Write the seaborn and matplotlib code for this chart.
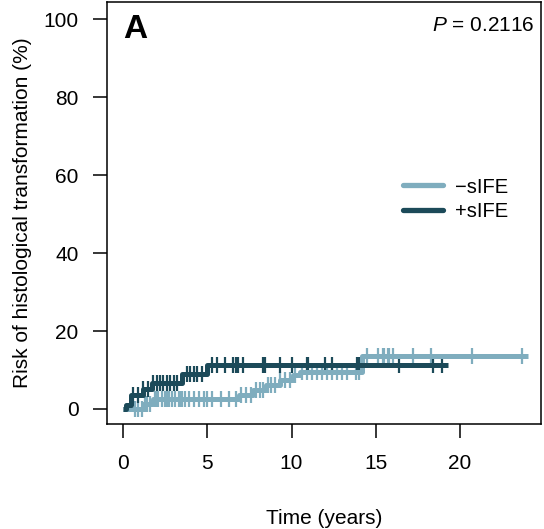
import numpy as np
import pandas as pd
import matplotlib
matplotlib.use("Agg")
import matplotlib.pyplot as plt
from matplotlib.lines import Line2D
import seaborn as sns

# ---- data ----
groups = ["\u2212sIFE", "+sIFE"]
colors = ["#7fadbe", "#1c4a59"]

# step curve: times where cumulative risk changes, and the risk (%) after it
neg_step_t = [0.0, 1.2, 1.8, 6.9, 7.7, 8.5, 9.3, 10.1, 10.5, 14.2, 24.0]
neg_step_r = [0.0, 1.2, 2.5, 3.6, 4.9, 6.1, 7.4, 8.6, 9.6, 13.5, 13.5]
pos_step_t = [0.0, 0.2, 0.45, 1.2, 1.7, 3.5, 5.0, 19.3]
pos_step_r = [0.0, 1.0, 3.5, 5.0, 6.7, 8.9, 11.2, 11.2]

# censoring times
neg_cens = [0.7, 0.9, 1.1, 1.3, 1.4, 1.6, 1.9, 2.0, 2.1, 2.3, 2.5, 2.6, 2.7,
            2.9, 3.1, 3.3, 3.4, 3.5, 3.7, 3.9, 4.2, 4.5, 4.8, 5.0, 5.3, 5.8,
            6.3, 6.7, 7.0, 7.3, 7.6, 7.9, 8.1, 8.3, 8.6, 8.8, 9.0, 9.3, 9.6,
            9.9, 10.2, 10.6, 10.9, 11.2, 11.5, 11.8, 12.1, 12.4, 12.7, 13.0,
            13.3, 13.8, 14.0, 14.5, 15.1, 15.4, 15.5, 15.7, 15.8, 16.0, 17.2,
            18.3, 20.7, 23.7]
pos_cens = [0.6, 0.9, 1.2, 1.5, 1.8, 2.0, 2.2, 2.4, 2.6, 2.8, 3.0, 3.2, 3.8,
            4.0, 4.2, 4.4, 4.7, 5.3, 5.6, 6.05, 6.5, 6.7, 6.8, 7.1, 8.3, 8.4,
            9.3, 10.0, 10.9, 11.0, 12.0, 12.4, 13.9, 14.0, 16.4, 18.4, 18.9]

p_text = "= 0.2116"
panel = "A"
xticks = [0, 5, 10, 15, 20]
yticks = [0, 20, 40, 60, 80, 100]

# ---- build tables ----
steps = pd.concat([
    pd.DataFrame({"time": neg_step_t, "risk": neg_step_r, "group": groups[0]}),
    pd.DataFrame({"time": pos_step_t, "risk": pos_step_r, "group": groups[1]}),
], ignore_index=True)

def risk_at(ts, st, sr):
    idx = np.searchsorted(np.asarray(st), np.asarray(ts), side="right") - 1
    return np.asarray(sr)[idx]

cens = pd.concat([
    pd.DataFrame({"time": neg_cens, "risk": risk_at(neg_cens, neg_step_t, neg_step_r), "group": groups[0]}),
    pd.DataFrame({"time": pos_cens, "risk": risk_at(pos_cens, pos_step_t, pos_step_r), "group": groups[1]}),
], ignore_index=True)

# ---- figure ----
sns.set_style("white")
plt.rcParams["font.family"] = ["Liberation Sans", "DejaVu Sans"]
plt.rcParams["text.color"] = "black"
plt.rcParams["axes.labelcolor"] = "black"
plt.rcParams["xtick.color"] = "black"
plt.rcParams["ytick.color"] = "black"
plt.rcParams["mathtext.fontset"] = "custom"
plt.rcParams["mathtext.it"] = "Liberation Sans:italic"
plt.rcParams["mathtext.rm"] = "Liberation Sans"

fig = plt.figure(figsize=(5.44, 5.29), dpi=100)
ax = fig.add_axes([107/544, 1 - 424/529, 434/544, 422/529])

for g, c in zip(groups, colors):
    sub = steps[steps.group == g]
    sns.lineplot(data=sub, x="time", y="risk", color=c, drawstyle="steps-post",
                 estimator=None, sort=False, linewidth=3.6, ax=ax, legend=False,
                 solid_capstyle="butt")
    subc = cens[cens.group == g]
    sns.scatterplot(data=subc, x="time", y="risk", color=c, marker="|", s=140,
                    linewidth=1.6, ax=ax, legend=False)

ax.set_xlim(-0.95, 24.8)
ax.set_ylim(-3.85, 104.4)
ax.set_xticks(xticks)
ax.set_yticks(yticks)
ax.tick_params(axis="both", direction="out", length=10, width=1.1, color="black",
               labelcolor="black", labelsize=15, left=True, bottom=True)
ax.tick_params(axis="x", pad=11.5)
ax.tick_params(axis="y", pad=10.5)
for s in ax.spines.values():
    s.set_visible(True)
    s.set_linewidth(1.1)
    s.set_color("black")

ax.set_xlabel("Time (years)", fontsize=15, labelpad=26, color="black")
ax.set_ylabel("Risk of histological transformation (%)", fontsize=15, labelpad=8,
              color="black")

ax.text(0.038, 0.935, panel, transform=ax.transAxes, fontsize=24, fontweight="bold",
        ha="left", va="center", color="black")
ax.text(0.985, 0.945, r"$P$ " + p_text, transform=ax.transAxes, fontsize=15,
        ha="right", va="center", color="black")

handles = [Line2D([], [], color=c, linewidth=3.8, solid_capstyle="round") for c in colors]
ax.legend(handles, groups, loc="upper left", bbox_to_anchor=(0.64, 0.627), frameon=False,
          fontsize=14.5, handlelength=2.0, labelspacing=0.25, handletextpad=0.6,
          labelcolor="black")

fig.savefig("out.png", dpi=100)
